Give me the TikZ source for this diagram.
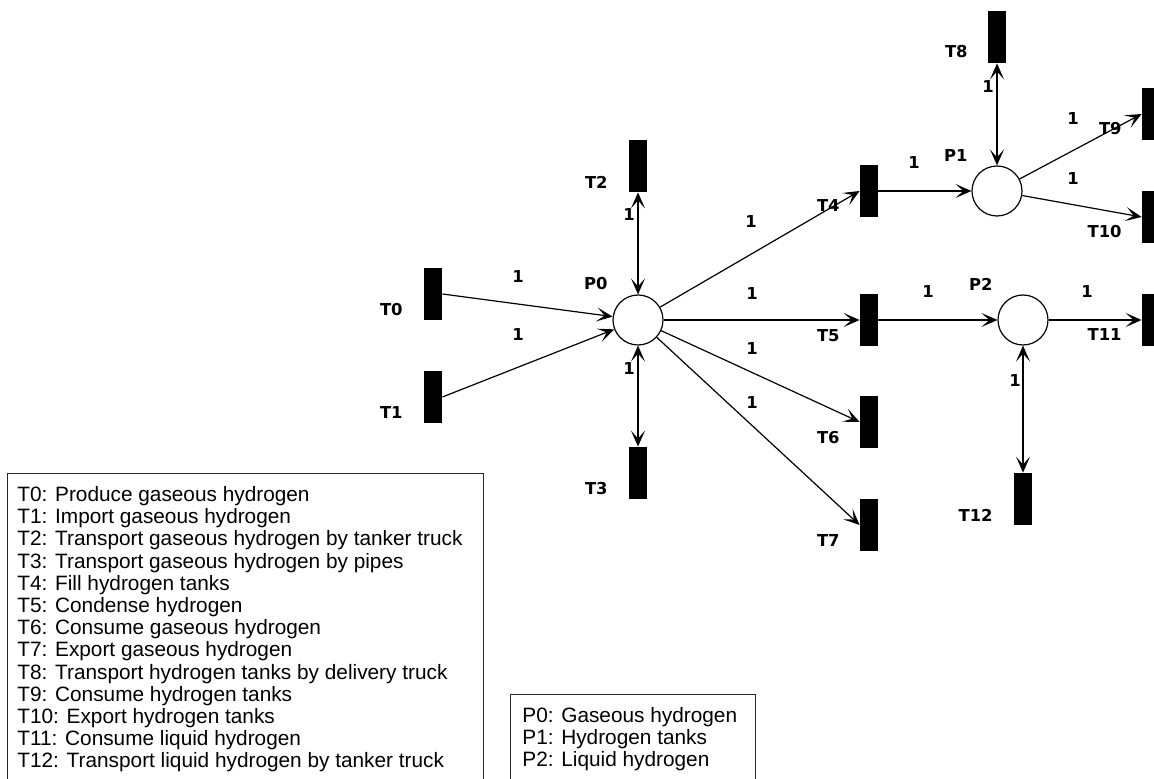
\documentclass[tikz,border=0pt]{standalone}
\usepackage{fontspec}
\setmainfont{Liberation Sans}
\newfontfamily\netfont{DejaVu Sans}
\usetikzlibrary{arrows.meta}
\definecolor{frameline}{RGB}{40, 40, 40}

\begin{document}
\begin{tikzpicture}[x=0.5pt, y=-0.5pt,
		place/.style={circle, draw=black, line width=0.6pt, minimum size=25pt, inner sep=0pt},
		transition/.style={rectangle, fill=black, minimum width=9pt, minimum height=26pt, inner sep=0pt},
		netlabel/.style={anchor=east, inner sep=0pt, font=\netfont\bfseries\fontsize{8.2}{9}\selectfont},
		weight/.style={inner sep=0pt, font=\netfont\bfseries\fontsize{8.2}{9}\selectfont},
		arc/.style={line width=0.6pt, -{Stealth[length=8pt, width=7pt, inset=4pt]}},
		biarc/.style={line width=0.6pt, {Stealth[length=8pt, width=7pt, inset=4pt]}-{Stealth[length=8pt, width=7pt, inset=4pt]}},
		legend/.style={anchor=north west, align=left, inner sep=0pt, font=\fontsize{10.4}{11.1}\selectfont},
		frame/.style={draw=frameline, line width=0.5pt}]
			\useasboundingbox (0, 0) rectangle (1154, 779);
			\clip (0, 0) rectangle (1154, 779);

			% places
			\node [place] (P0) at (638, 320) {};
			\node [place] (P1) at (997, 191) {};
			\node [place] (P2) at (1023, 320) {};

			% transitions
			\node [transition] (T0) at (433, 294) {};
			\node [transition] (T1) at (433, 397) {};
			\node [transition] (T2) at (638, 166) {};
			\node [transition] (T3) at (638, 473) {};
			\node [transition] (T4) at (869, 191) {};
			\node [transition] (T5) at (869, 320) {};
			\node [transition] (T6) at (869, 422) {};
			\node [transition] (T7) at (869, 525) {};
			\node [transition] (T8) at (997, 37) {};
			\node [transition] (T9) at (1151, 114) {};
			\node [transition] (T10) at (1151, 217) {};
			\node [transition] (T11) at (1151, 320) {};
			\node [transition] (T12) at (1023, 499) {};

			% names
			\node [netlabel] (labP0) at (608, 284) {P0};
			\node [netlabel] (labP1) at (968, 156) {P1};
			\node [netlabel] (labP2) at (993, 284) {P2};
			\node [netlabel] (labT0) at (403, 310) {T0};
			\node [netlabel] (labT1) at (403, 413) {T1};
			\node [netlabel] (labT2) at (608, 182) {T2};
			\node [netlabel] (labT3) at (608, 489) {T3};
			\node [netlabel] (labT4) at (840, 206) {T4};
			\node [netlabel] (labT5) at (840, 336) {T5};
			\node [netlabel] (labT6) at (840, 438) {T6};
			\node [netlabel] (labT7) at (840, 541) {T7};
			\node [netlabel] (labT8) at (968, 52) {T8};
			\node [netlabel] (labT9) at (1122, 129) {T9};
			\node [netlabel] (labT10) at (1122, 232) {T10};
			\node [netlabel] (labT11) at (1122, 335) {T11};
			\node [netlabel] (labT12) at (993, 515) {T12};

			% arcs
			\draw [arc] (T0.east) -- (P0);
			\draw [arc] (T1.east) -- (P0);
			\draw [biarc] (T2.south) -- (P0);
			\draw [biarc] (T3.north) -- (P0);
			\draw [arc] (P0) -- (T4.west);
			\draw [arc] (P0) -- (T5.west);
			\draw [arc] (P0) -- (T6.west);
			\draw [arc] (P0) -- (T7.west);
			\draw [arc] (T4.east) -- (P1);
			\draw [biarc] (T8.south) -- (P1);
			\draw [arc] (P1) -- (T9.west);
			\draw [arc] (P1) -- (T10.west);
			\draw [arc] (T5.east) -- (P2);
			\draw [arc] (P2) -- (T11.west);
			\draw [biarc] (T12.north) -- (P2);

			% weights
			\node [weight] (wT0) at (518, 277) {1};
			\node [weight] (wT1) at (518, 335) {1};
			\node [weight] (wT2) at (629, 215) {1};
			\node [weight] (wT3) at (629, 369) {1};
			\node [weight] (wT4) at (751, 222) {1};
			\node [weight] (wT5) at (752, 294) {1};
			\node [weight] (wT6) at (752, 349) {1};
			\node [weight] (wT7) at (752, 403) {1};
			\node [weight] (wP1) at (914, 163) {1};
			\node [weight] (wT8) at (988, 87) {1};
			\node [weight] (wT9) at (1073, 119) {1};
			\node [weight] (wT10) at (1073, 179) {1};
			\node [weight] (wP2) at (928, 292) {1};
			\node [weight] (wT11) at (1087, 292) {1};
			\node [weight] (wT12) at (1015, 381) {1};

			% legends
			\draw [frame] (7, 474) rectangle (483, 800);
			\draw [frame] (510, 694) rectangle (755, 800);
			\node [legend] (legendT) at (17, 486) {T0: Produce gaseous hydrogen\\
				T1: Import gaseous hydrogen\\
				T2: Transport gaseous hydrogen by tanker truck\\
				T3: Transport gaseous hydrogen by pipes\\
				T4: Fill hydrogen tanks\\
				T5: Condense hydrogen\\
				T6: Consume gaseous hydrogen\\
				T7: Export gaseous hydrogen\\
				T8: Transport hydrogen tanks by delivery truck\\
				T9: Consume hydrogen tanks\\
				T10: Export hydrogen tanks\\
				T11: Consume liquid hydrogen\\
				T12: Transport liquid hydrogen by tanker truck};
			\node [legend] (legendP) at (522, 707) {P0: Gaseous hydrogen\\
				P1: Hydrogen tanks\\
				P2: Liquid hydrogen};
		\end{tikzpicture}
\end{document}
